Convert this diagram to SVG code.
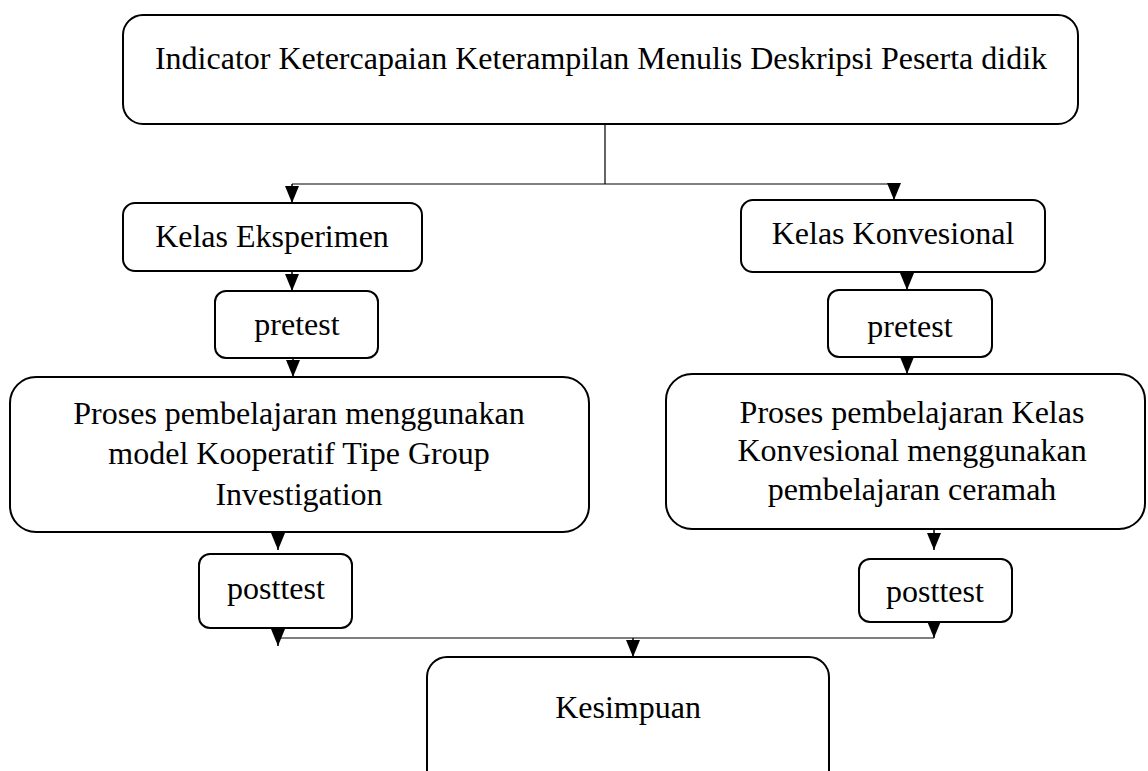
<svg xmlns="http://www.w3.org/2000/svg" width="1148" height="771" viewBox="0 0 1148 771">
<style>
.box{fill:#fff;stroke:#000;stroke-width:2}
.t{font-family:"Liberation Serif","Times New Roman",serif;font-size:32px;fill:#000;text-anchor:middle}
.c{fill:none;stroke:#000;stroke-width:1.2}
.a{fill:none;stroke:#000;stroke-width:1.5;marker-end:url(#ah)}
</style>
<defs>
<marker id="ah" markerUnits="userSpaceOnUse" markerWidth="17" markerHeight="14" refX="17" refY="7" orient="auto" viewBox="0 0 17 14">
<path d="M0,0 L17,7 L0,14 Z" fill="#000"/>
</marker>
</defs>
<rect width="1148" height="771" fill="#fff"/>
<g id="top"><rect class="box" x="123" y="15" width="955" height="109" rx="20"/><text class="t" x="601" y="69">Indicator Ketercapaian Keterampilan Menulis Deskripsi Peserta didik</text></g>
<g id="kelas-eksperimen"><rect class="box" x="123" y="203" width="299" height="68" rx="12"/><text class="t" x="272" y="247">Kelas Eksperimen</text></g>
<g id="kelas-konvesional"><rect class="box" x="741" y="200" width="304" height="72" rx="12"/><text class="t" x="893" y="244">Kelas Konvesional</text></g>
<g id="pretest-left"><rect class="box" x="215" y="291" width="163" height="67" rx="11"/><text class="t" x="297" y="335">pretest</text></g>
<g id="pretest-right"><rect class="box" x="828" y="290" width="164" height="67" rx="11"/><text class="t" x="910" y="337">pretest</text></g>
<g id="proses-left"><rect class="box" x="10" y="377" width="579" height="155" rx="26"/><text class="t" x="299" y="424">Proses pembelajaran menggunakan</text><text class="t" x="299" y="464">model Kooperatif Tipe Group</text><text class="t" x="299" y="505">Investigation</text></g>
<g id="proses-right"><rect class="box" x="666" y="374" width="479" height="155" rx="26"/><text class="t" x="912" y="423">Proses pembelajaran Kelas</text><text class="t" x="912" y="461">Konvesional menggunakan</text><text class="t" x="912" y="500">pembelajaran ceramah</text></g>
<g id="posttest-left"><rect class="box" x="199" y="554" width="153" height="74" rx="11"/><text class="t" x="276" y="599">posttest</text></g>
<g id="posttest-right"><rect class="box" x="859" y="559" width="153" height="63" rx="11"/><text class="t" x="935" y="602">posttest</text></g>
<g id="kesimpuan"><rect class="box" x="427" y="657" width="402" height="140" rx="20"/><text class="t" x="628" y="718">Kesimpuan</text></g>
<g id="connectors">
<path class="c" d="M605,125 V184 M292,184 H895 M278,638 H934"/>
<path class="a" d="M292,184 V203"/>
<path class="a" d="M894,184 V200"/>
<path class="a" d="M292,271 V291"/>
<path class="a" d="M907,272 V290"/>
<path class="a" d="M293,358 V377"/>
<path class="a" d="M907,357 V374"/>
<path class="a" d="M278,532 V550"/>
<path class="a" d="M934,529 V550"/>
<path class="a" d="M278,628 V646"/>
<path class="a" d="M934,622 V638"/>
<path class="a" d="M633,638 V657"/>
</g>
</svg>
